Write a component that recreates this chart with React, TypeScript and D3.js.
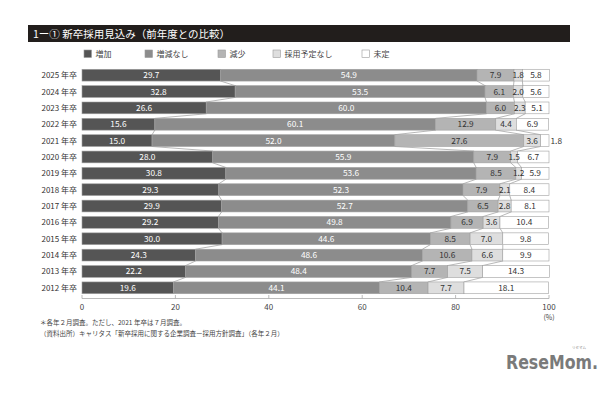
import * as d3 from "d3";

const years = [
  "2025 年卒", "2024 年卒", "2023 年卒", "2022 年卒", "2021 年卒", "2020 年卒", "2019 年卒",
  "2018 年卒", "2017 年卒", "2016 年卒", "2015 年卒", "2014 年卒", "2013 年卒", "2012 年卒",
];
const series = ["増加", "増減なし", "減少", "採用予定なし", "未定"];
const zouka = [29.7, 32.8, 26.6, 15.6, 15.0, 28.0, 30.8, 29.3, 29.9, 29.2, 30.0, 24.3, 22.2, 19.6];
const nashi = [54.9, 53.5, 60.0, 60.1, 52.0, 55.9, 53.6, 52.3, 52.7, 49.8, 44.6, 48.6, 48.4, 44.1];
const genshou = [7.9, 6.1, 6.0, 12.9, 27.6, 7.9, 8.5, 7.9, 6.5, 6.9, 8.5, 10.6, 7.7, 10.4];
const yoteinashi = [1.8, 2.0, 2.3, 4.4, 3.6, 1.5, 1.2, 2.1, 2.8, 3.6, 7.0, 6.6, 7.5, 7.7];
const mitei = [5.8, 5.6, 5.1, 6.9, 1.8, 6.7, 5.9, 8.4, 8.1, 10.4, 9.8, 9.9, 14.3, 18.1];
const xTicks = [0, 20, 40, 60, 80, 100];

const colors = ["#555555", "#8c8c8c", "#b4b4b4", "#dedede", "#ffffff"];
const textColors = ["#ffffff", "#ffffff", "#333333", "#333333", "#333333"];
const font = "'Noto Sans CJK JP', 'Noto Sans', sans-serif";

type Row = { year: string; values: number[] };
const rows: Row[] = years.map((year, i) => ({
  year,
  values: [zouka[i], nashi[i], genshou[i], yoteinashi[i], mitei[i]],
}));

export default function App() {
  const width = 610;
  const height = 400;

  const x = d3.scaleLinear().domain([0, 100]).range([82, 549]);
  const y = d3.scaleBand().domain(years).range([67, 296]).paddingInner(0.28).paddingOuter(0.14);
  const bw = y.bandwidth();

  const stacked = rows.map((r) => {
    const cum = d3.cumsum(r.values);
    return r.values.map((v, k) => ({ v, x0: k === 0 ? 0 : cum[k - 1], x1: cum[k], k }));
  });

  const legendX = [84, 145, 218, 273, 362];

  return (
    <div style={{ position: "absolute", left: 0, top: 0 }}>
      <svg width={width} height={height} style={{ display: "block", background: "#fff" }} fontFamily={font}>
        {/* title bar */}
        <rect x={28} y={25} width={542} height={17} fill="#221e1c" />
        <text x={33} y={37.5} fill="#fff" fontSize={10.5}>
          1ー① 新卒採用見込み（前年度との比較）
        </text>

        {/* legend */}
        {series.map((s, k) => (
          <g key={s} transform={`translate(${legendX[k]},50)`}>
            <rect width={7.5} height={7.5} fill={colors[k]} stroke="#999" strokeWidth={0.6} />
            <text x={11.5} y={7} fontSize={8} fill="#444">
              {s}
            </text>
          </g>
        ))}

        {/* connector lines */}
        {stacked.slice(0, -1).map((segs, i) =>
          segs.slice(0, 4).map((seg) => (
            <line
              key={`c${i}-${seg.k}`}
              x1={x(seg.x1)}
              y1={y(years[i])! + bw}
              x2={x(stacked[i + 1][seg.k].x1)}
              y2={y(years[i + 1])!}
              stroke="#9a9a9a"
              strokeWidth={0.7}
            />
          )),
        )}

        {/* bars */}
        {stacked.map((segs, i) => (
          <g key={years[i]}>
            <text x={77} y={y(years[i])! + bw / 2 + 3} textAnchor="end" fontSize={8} fill="#333">
              {years[i]}
            </text>
            {segs.map((seg) => (
              <rect
                key={seg.k}
                x={x(seg.x0)}
                y={y(years[i])}
                width={x(seg.x1) - x(seg.x0)}
                height={bw}
                fill={colors[seg.k]}
                stroke="#a0a0a0"
                strokeWidth={0.6}
              />
            ))}
            {segs.map((seg) => {
              const outside = seg.k === 4 && seg.v < 2;
              return (
                <text
                  key={`t${seg.k}`}
                  x={outside ? x(seg.x1) + 1.5 : (x(seg.x0) + x(seg.x1)) / 2}
                  y={y(years[i])! + bw / 2 + 3}
                  textAnchor={outside ? "start" : "middle"}
                  fontSize={8.3}
                  fill={textColors[seg.k]}
                >
                  {seg.v.toFixed(1)}
                </text>
              );
            })}
          </g>
        ))}

        {/* x axis */}
        <line x1={x(0)} x2={x(100)} y1={298.5} y2={298.5} stroke="#aaa" strokeWidth={0.8} />
        {xTicks.map((t) => (
          <g key={t}>
            <line x1={x(t)} x2={x(t)} y1={295} y2={298.5} stroke="#aaa" strokeWidth={0.8} />
            <text x={x(t)} y={310} textAnchor="middle" fontSize={8} fill="#444">
              {t}
            </text>
          </g>
        ))}
        <text x={x(100)} y={320} textAnchor="middle" fontSize={7} fill="#444">
          (%)
        </text>

        {/* notes */}
        <text x={40} y={325} fontSize={6.5} fill="#444">
          ＊各年２月調査。ただし、2021 年卒は７月調査。
        </text>
        <text x={40} y={336} fontSize={6.5} fill="#444">
          （資料出所）キャリタス「新卒採用に関する企業調査ー採用方針調査」（各年２月）
        </text>

        {/* logo */}
        <text
          x={506}
          y={369}
          fontSize={20}
          fontWeight="bold"
          fill="#7a7a7a"
          fontFamily="'DejaVu Sans Condensed', 'Liberation Sans Narrow', sans-serif"
          textLength={92}
          lengthAdjust="spacingAndGlyphs"
        >
          ReseMom.
        </text>
        <text x={572} y={349} fontSize={3.5} fill="#888">
          リセマム
        </text>
      </svg>
    </div>
  );
}
